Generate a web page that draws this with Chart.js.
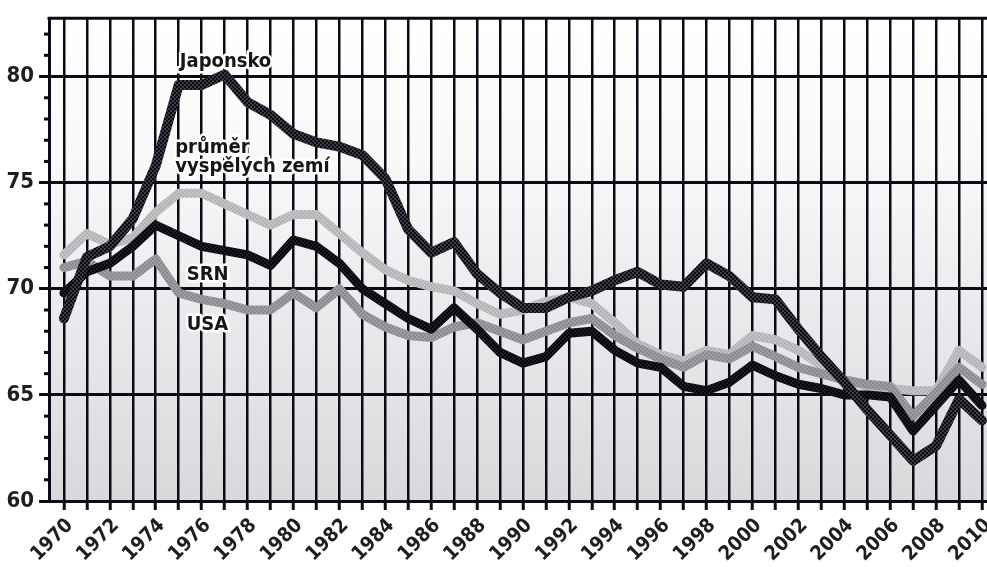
<!DOCTYPE html>
<html>
<head>
<meta charset="utf-8">
<script src="https://cdn.jsdelivr.net/npm/chart.js@4.4.0/dist/chart.umd.min.js"></script>
<style>
  html, body { margin: 0; padding: 0; background: #fff; }
  #wrap { width: 987px; height: 567px; }
</style>
</head>
<body>
<div id="wrap"><canvas id="chart"></canvas></div>
<script>
const years = [1970, 1971, 1972, 1973, 1974, 1975, 1976, 1977, 1978, 1979,
  1980, 1981, 1982, 1983, 1984, 1985, 1986, 1987, 1988, 1989,
  1990, 1991, 1992, 1993, 1994, 1995, 1996, 1997, 1998, 1999,
  2000, 2001, 2002, 2003, 2004, 2005, 2006, 2007, 2008, 2009, 2010];

const japonsko = [68.6, 71.5, 72.0, 73.3, 75.8, 79.6, 79.6, 80.1, 78.8, 78.2,
  77.3, 76.9, 76.7, 76.3, 75.2, 72.8, 71.7, 72.2, 70.7, 69.8,
  69.1, 69.1, 69.6, 69.9, 70.4, 70.8, 70.2, 70.1, 71.2, 70.6,
  69.6, 69.5, 68.1, 66.8, 65.6, 64.3, 63.1, 61.9, 62.6, 64.8, 63.8];

const srn = [69.8, 70.8, 71.2, 72.0, 73.0, 72.5, 72.0, 71.8, 71.6, 71.1,
  72.3, 72.0, 71.2, 70.0, 69.3, 68.6, 68.1, 69.1, 68.1, 67.0,
  66.5, 66.8, 67.9, 68.0, 67.1, 66.5, 66.3, 65.4, 65.2, 65.6,
  66.4, 65.9, 65.5, 65.3, 65.0, 65.0, 64.9, 63.3, 64.5, 65.7, 64.5];

const usa = [71.0, 71.3, 70.6, 70.6, 71.4, 69.8, 69.5, 69.3, 69.0, 69.0,
  69.8, 69.1, 70.0, 68.8, 68.2, 67.8, 67.7, 68.2, 68.4, 68.0,
  67.6, 68.0, 68.4, 68.6, 67.8, 67.2, 66.7, 66.3, 66.9, 66.7,
  67.3, 66.8, 66.3, 66.0, 65.7, 65.5, 65.4, 64.0, 65.1, 66.3, 65.5];

const prumer = [71.6, 72.6, 72.1, 72.4, 73.6, 74.5, 74.5, 74.0, 73.5, 73.0,
  73.5, 73.5, 72.6, 71.7, 70.9, 70.4, 70.1, 69.9, 69.3, 68.8,
  69.0, 69.4, 69.6, 69.3, 68.4, 67.4, 66.9, 66.6, 67.1, 66.9,
  67.8, 67.6, 67.1, 66.4, 65.7, 65.4, 65.3, 65.2, 65.2, 67.1, 66.3];

// series labels written into the plot, placed in data units
const notes = [
  { text: 'Japonsko', x: 1975.05, y: 80.45 },
  { text: 'průměr', x: 1974.85, y: 76.4 },
  { text: 'vyspělých zemí', x: 1974.85, y: 75.5 },
  { text: 'SRN', x: 1975.35, y: 70.4 },
  { text: 'USA', x: 1975.35, y: 68.05 }
];

const FONT = "'DejaVu Sans Condensed', 'Liberation Sans Narrow', Roboto, sans-serif";
const INK = '#0b0b16';

const ctx = document.getElementById('chart').getContext('2d');

function checker(a, b) {
  const c = document.createElement('canvas');
  c.width = 4; c.height = 4;
  const g = c.getContext('2d');
  g.fillStyle = a; g.fillRect(0, 0, 4, 4);
  g.fillStyle = b; g.fillRect(0, 0, 2, 2); g.fillRect(2, 2, 2, 2);
  return ctx.createPattern(c, 'repeat');
}

function pts(arr) {
  return arr.map((v, i) => ({ x: years[i], y: v }));
}

const backdrop = {
  id: 'backdrop',
  beforeDraw(chart) {
    const { ctx, chartArea: a } = chart;
    ctx.save();
    ctx.fillStyle = '#fff';
    ctx.fillRect(0, 0, chart.width, chart.height);
    const g = ctx.createLinearGradient(0, a.top, 0, a.bottom);
    g.addColorStop(0, '#ffffff');
    g.addColorStop(0.3, '#f8f8f9');
    g.addColorStop(1, '#d9d9dc');
    ctx.fillStyle = g;
    ctx.fillRect(a.left, a.top, a.right - a.left, a.bottom - a.top);
    ctx.restore();
  }
};

const extras = {
  id: 'extras',
  afterDraw(chart) {
    const { ctx, chartArea: a } = chart;
    const xs = chart.scales.x, ys = chart.scales.y;
    ctx.save();
    ctx.strokeStyle = INK;
    ctx.lineWidth = 3;
    // top frame line
    ctx.beginPath();
    ctx.moveTo(a.left - 1.5, a.top);
    ctx.lineTo(a.right, a.top);
    ctx.stroke();
    // minor ticks on the value axis
    ys.ticks.forEach(t => {
      if (t.value % 5 !== 0) {
        const py = ys.getPixelForValue(t.value);
        ctx.beginPath();
        ctx.moveTo(ys.right - 5, py);
        ctx.lineTo(ys.right, py);
        ctx.stroke();
      }
    });
    // series names with a white halo
    ctx.font = 'bold 20px ' + FONT;
    ctx.textBaseline = 'alphabetic';
    ctx.textAlign = 'left';
    ctx.lineJoin = 'round';
    notes.forEach(n => {
      const px = xs.getPixelForValue(n.x), py = ys.getPixelForValue(n.y);
      ctx.strokeStyle = '#fff';
      ctx.lineWidth = 5;
      ctx.strokeText(n.text, px, py);
      ctx.fillStyle = '#161616';
      ctx.fillText(n.text, px, py);
    });
    ctx.restore();
  }
};

function line(label, data, color, width) {
  return {
    label: label,
    data: pts(data),
    borderColor: color,
    borderWidth: width,
    pointRadius: 0,
    tension: 0,
    borderJoinStyle: 'round',
    borderCapStyle: 'round',
    fill: false
  };
}

new Chart(ctx, {
  type: 'line',
  data: {
    datasets: [
      line('Japonsko', japonsko, checker('#0c0c12', '#3a3a42'), 10),
      line('SRN', srn, checker('#06060c', '#1a1a22'), 9),
      line('USA', usa, checker('#8a8b8e', '#9d9ea1'), 9),
      line('průměr vyspělých zemí', prumer, checker('#b3b4b6', '#c2c3c5'), 9)
    ]
  },
  options: {
    responsive: true,
    maintainAspectRatio: false,
    animation: false,
    layout: { padding: { top: 16, right: 0, left: 0, bottom: 0 } },
    plugins: { legend: { display: false }, tooltip: { enabled: false } },
    scales: {
      x: {
        type: 'linear',
        min: 1969.35,
        max: 2010.22,
        z: 1,
        afterFit: s => { s.height = 66; s.paddingLeft = 0; s.paddingRight = 0; },
        ticks: {
          stepSize: 1,
          includeBounds: false,
          autoSkip: false,
          minRotation: 45,
          maxRotation: 45,
          labelOffset: 6,
          padding: 4,
          color: '#1e1e1e',
          font: { family: FONT, size: 20, weight: 'bold' },
          callback: v => v % 2 === 0 ? String(v) : ''
        },
        grid: {
          color: INK,
          lineWidth: 2.5,
          tickLength: 9,
          tickWidth: 3,
          tickColor: INK
        },
        border: { color: INK, width: 3 }
      },
      y: {
        min: 60,
        max: 82.75,
        z: 1,
        afterFit: s => { s.width = 49; },
        ticks: {
          stepSize: 1,
          includeBounds: false,
          autoSkip: false,
          padding: 5,
          color: '#1e1e1e',
          font: { family: FONT, size: 22, weight: 'bold' },
          callback: v => v % 5 === 0 ? String(v) : ''
        },
        grid: {
          color: c => c.tick.value % 5 === 0 ? INK : 'transparent',
          lineWidth: 3,
          tickLength: 10,
          tickWidth: 3,
          tickColor: c => c.tick.value % 5 === 0 ? INK : 'transparent'
        },
        border: { color: INK, width: 3 }
      }
    }
  },
  plugins: [backdrop, extras]
});
</script>
</body>
</html>
